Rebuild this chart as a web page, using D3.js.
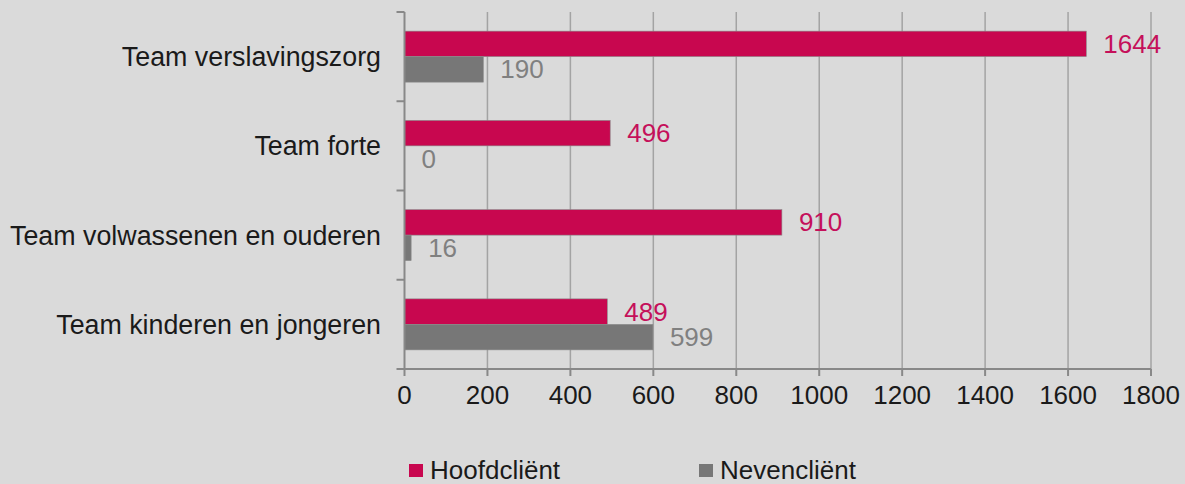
<!DOCTYPE html>
<html>
<head>
<meta charset="utf-8">
<script src="https://cdn.jsdelivr.net/npm/d3@7"></script>
<style>
  html, body { margin: 0; padding: 0; background: #dadada; }
  svg { display: block; font-family: "Liberation Sans", Arial, sans-serif; }
</style>
</head>
<body>
<div id="chart"></div>
<script>
// categories top to bottom
var categories = ['Team verslavingszorg', 'Team forte', 'Team volwassenen en ouderen', 'Team kinderen en jongeren'];
var seriesNames = ['Hoofdcliënt', 'Nevencliënt'];
var hoofdValues = [1644, 496, 910, 489];
var nevenValues = [190, 0, 16, 599];
var xTicks = [0, 200, 400, 600, 800, 1000, 1200, 1400, 1600, 1800];
var seriesColors = ['#c8074f', '#777777'];
var labelColors = ['#c5105a', '#808080'];

function drawChart() {
  var width = 1185, height = 484;
  var plotLeft = 404.5, plotRight = 1151, plotTop = 12, plotBottom = 369;

  var svg = d3.select('#chart').append('svg')
    .attr('width', width)
    .attr('height', height);

  var x = d3.scaleLinear().domain([0, 1800]).range([plotLeft, plotRight]);
  var y = d3.scaleBand().domain(categories).range([plotTop, plotBottom]).padding(0);
  var ySub = d3.scaleBand().domain(seriesNames).range([0, y.bandwidth()])
    .paddingInner(0).paddingOuter(0.75);

  // gridlines
  svg.append('g').selectAll('line')
    .data(xTicks.slice(1))
    .enter().append('line')
    .attr('x1', function(d) { return x(d); })
    .attr('x2', function(d) { return x(d); })
    .attr('y1', plotTop)
    .attr('y2', plotBottom)
    .attr('stroke', '#a3a3a3')
    .attr('stroke-width', 1.5);

  // bars
  var rows = categories.map(function(c, i) {
    return { cat: c, vals: [hoofdValues[i], nevenValues[i]] };
  });
  var toItems = function(d) {
    return d.vals.map(function(v, j) { return { v: v, s: seriesNames[j], j: j }; });
  };

  var groups = svg.append('g').selectAll('g')
    .data(rows)
    .enter().append('g')
    .attr('transform', function(d) { return 'translate(0,' + y(d.cat) + ')'; });

  groups.selectAll('rect')
    .data(toItems)
    .enter().append('rect')
    .attr('x', x(0))
    .attr('y', function(d) { return ySub(d.s); })
    .attr('width', function(d) { return x(d.v) - x(0); })
    .attr('height', ySub.bandwidth())
    .attr('fill', function(d) { return seriesColors[d.j]; })
    .attr('stroke', function(d) { return d.v > 0 ? '#8a8a8a' : 'none'; })
    .attr('stroke-width', 0.6);

  groups.selectAll('text')
    .data(toItems)
    .enter().append('text')
    .attr('x', function(d) { return x(d.v) + 17; })
    .attr('y', function(d) { return ySub(d.s) + ySub.bandwidth() / 2; })
    .attr('dy', '0.35em')
    .attr('font-size', 26)
    .attr('fill', function(d) { return labelColors[d.j]; })
    .text(function(d) { return d.v; });

  // x axis
  var xAxis = svg.append('g');
  xAxis.append('line')
    .attr('x1', plotLeft).attr('x2', plotRight)
    .attr('y1', plotBottom).attr('y2', plotBottom)
    .attr('stroke', '#888').attr('stroke-width', 2);
  xAxis.selectAll('line.tick')
    .data(xTicks)
    .enter().append('line')
    .attr('class', 'tick')
    .attr('x1', function(d) { return x(d); })
    .attr('x2', function(d) { return x(d); })
    .attr('y1', plotBottom)
    .attr('y2', plotBottom + 7)
    .attr('stroke', '#888').attr('stroke-width', 2);
  xAxis.selectAll('text')
    .data(xTicks)
    .enter().append('text')
    .attr('x', function(d) { return x(d); })
    .attr('y', 404)
    .attr('text-anchor', 'middle')
    .attr('font-size', 26)
    .attr('fill', '#1a1a1a')
    .text(function(d) { return d; });

  // y axis
  var yAxis = svg.append('g');
  yAxis.append('line')
    .attr('x1', plotLeft).attr('x2', plotLeft)
    .attr('y1', plotTop).attr('y2', plotBottom)
    .attr('stroke', '#888').attr('stroke-width', 2);
  var bounds = categories.map(function(c) { return y(c); }).concat([plotBottom]);
  yAxis.selectAll('line.tick')
    .data(bounds)
    .enter().append('line')
    .attr('class', 'tick')
    .attr('x1', plotLeft - 8).attr('x2', plotLeft)
    .attr('y1', function(d) { return d; })
    .attr('y2', function(d) { return d; })
    .attr('stroke', '#888').attr('stroke-width', 2);
  yAxis.selectAll('text')
    .data(categories)
    .enter().append('text')
    .attr('x', 381)
    .attr('y', function(d) { return y(d) + y.bandwidth() / 2; })
    .attr('dy', '0.35em')
    .attr('text-anchor', 'end')
    .attr('font-size', 26.8)
    .attr('fill', '#1a1a1a')
    .text(function(d) { return d; });

  // legend
  var legendX = [409, 699];
  var legend = svg.append('g').selectAll('g')
    .data(seriesNames)
    .enter().append('g')
    .attr('transform', function(d, i) { return 'translate(' + legendX[i] + ',464)'; });
  legend.append('rect')
    .attr('width', 14).attr('height', 13)
    .attr('fill', function(d, i) { return seriesColors[i]; });
  legend.append('text')
    .attr('x', 21)
    .attr('y', 15)
    .attr('font-size', 26)
    .attr('fill', '#1a1a1a')
    .text(function(d) { return d; });
}

drawChart();
</script>
</body>
</html>
